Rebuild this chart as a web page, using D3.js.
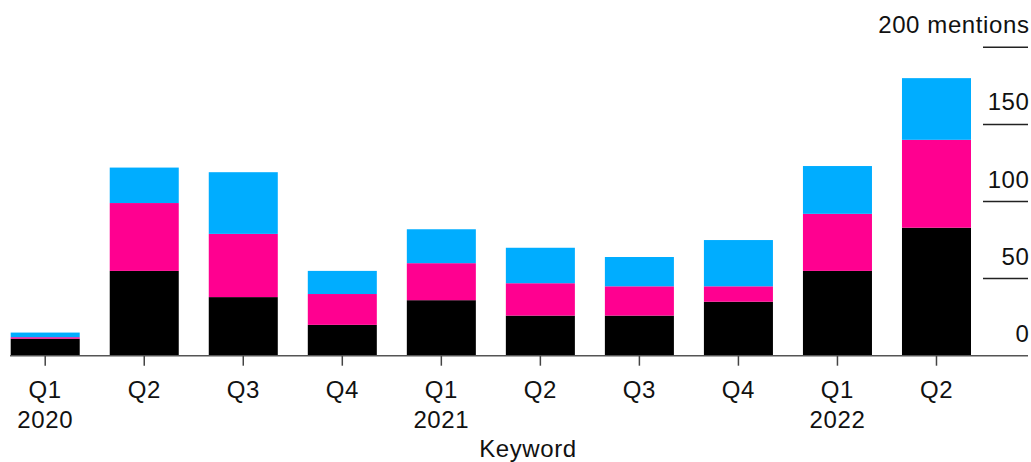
<!DOCTYPE html>
<html>
<head>
<meta charset="utf-8">
<script src="https://cdn.jsdelivr.net/npm/d3@7"></script>
<style>
  html, body { margin: 0; padding: 0; background: #fff; }
  svg { display: block; }
  text { font-family: "Liberation Sans", Arial, Helvetica, sans-serif; fill: #111; letter-spacing: 0.6px; }
</style>
</head>
<body>
<svg id="chart" width="1031" height="462"></svg>
<script>
// Quarter labels along the bottom axis
const quarters = ["Q1", "Q2", "Q3", "Q4", "Q1", "Q2", "Q3", "Q4", "Q1", "Q2"];
const years    = ["2020", "", "", "", "2021", "", "", "", "2022", ""];

// Mentions per quarter, stacked bottom to top
const baseSeries   = [11, 55, 38, 20, 36, 26, 26, 35, 55, 83];
const middleSeries = [1, 44, 41, 20, 24, 21, 19, 10, 37, 57];
const topSeries    = [3, 23, 40, 15, 22, 23, 19, 30, 31, 40];

// Right-hand axis ticks
const yTicks = [0, 50, 100, 150, 200];
const yTickLabels = ["0", "50", "100", "150", "200 mentions"];

const seriesKeys = ["base", "middle", "top"];
const seriesColors = { base: "#000000", middle: "#ff0090", top: "#00adff" };

const rows = quarters.map((q, i) => ({
  idx: i,
  base: baseSeries[i],
  middle: middleSeries[i],
  top: topSeries[i]
}));

const svg = d3.select("#chart");
const fontSize = 24;

const x = d3.scaleBand()
  .domain(rows.map(d => d.idx))
  .range([10.7, 971])
  .paddingInner(0.303)
  .paddingOuter(0);

const y = d3.scaleLinear()
  .domain([0, 200])
  .range([355.7, 47.3]);

const stacked = d3.stack().keys(seriesKeys)(rows);

// Stacked bars
svg.append("g")
  .selectAll("g")
  .data(stacked)
  .join("g")
    .attr("fill", s => seriesColors[s.key])
  .selectAll("rect")
  .data(s => s)
  .join("rect")
    .attr("x", d => x(d.data.idx))
    .attr("width", x.bandwidth())
    .attr("y", d => y(d[1]))
    .attr("height", d => y(d[0]) - y(d[1]));

// Right axis: short rules with labels sitting above them
const yAxis = svg.append("g");
yAxis.selectAll("line")
  .data(yTicks.filter(t => t > 0))
  .join("line")
    .attr("x1", 983).attr("x2", 1028)
    .attr("y1", d => y(d)).attr("y2", d => y(d))
    .attr("stroke", "#222")
    .attr("stroke-width", 1.5);

yAxis.selectAll("text")
  .data(yTicks)
  .join("text")
    .attr("x", 1029.5)
    .attr("y", d => y(d) - 14)
    .attr("text-anchor", "end")
    .attr("font-size", fontSize)
    .text((d, i) => yTickLabels[i]);

// Baseline
svg.append("line")
  .attr("x1", 10).attr("x2", 1028)
  .attr("y1", y(0)).attr("y2", y(0))
  .attr("stroke", "#555")
  .attr("stroke-width", 1.5);

// Bottom axis ticks and labels
const xAxis = svg.append("g");
xAxis.selectAll("line")
  .data(rows)
  .join("line")
    .attr("x1", d => x(d.idx) + x.bandwidth() / 2)
    .attr("x2", d => x(d.idx) + x.bandwidth() / 2)
    .attr("y1", y(0)).attr("y2", y(0) + 10)
    .attr("stroke", "#444")
    .attr("stroke-width", 1.5);

xAxis.selectAll("text.q")
  .data(rows)
  .join("text")
    .attr("class", "q")
    .attr("x", d => x(d.idx) + x.bandwidth() / 2)
    .attr("y", 398)
    .attr("text-anchor", "middle")
    .attr("font-size", fontSize)
    .text(d => quarters[d.idx]);

xAxis.selectAll("text.yr")
  .data(rows.filter(d => years[d.idx] !== ""))
  .join("text")
    .attr("class", "yr")
    .attr("x", d => x(d.idx) + x.bandwidth() / 2)
    .attr("y", 428)
    .attr("text-anchor", "middle")
    .attr("font-size", fontSize)
    .text(d => years[d.idx]);

svg.append("text")
  .attr("x", 528)
  .attr("y", 457)
  .attr("text-anchor", "middle")
  .attr("font-size", fontSize)
  .text("Keyword");
</script>
</body>
</html>
